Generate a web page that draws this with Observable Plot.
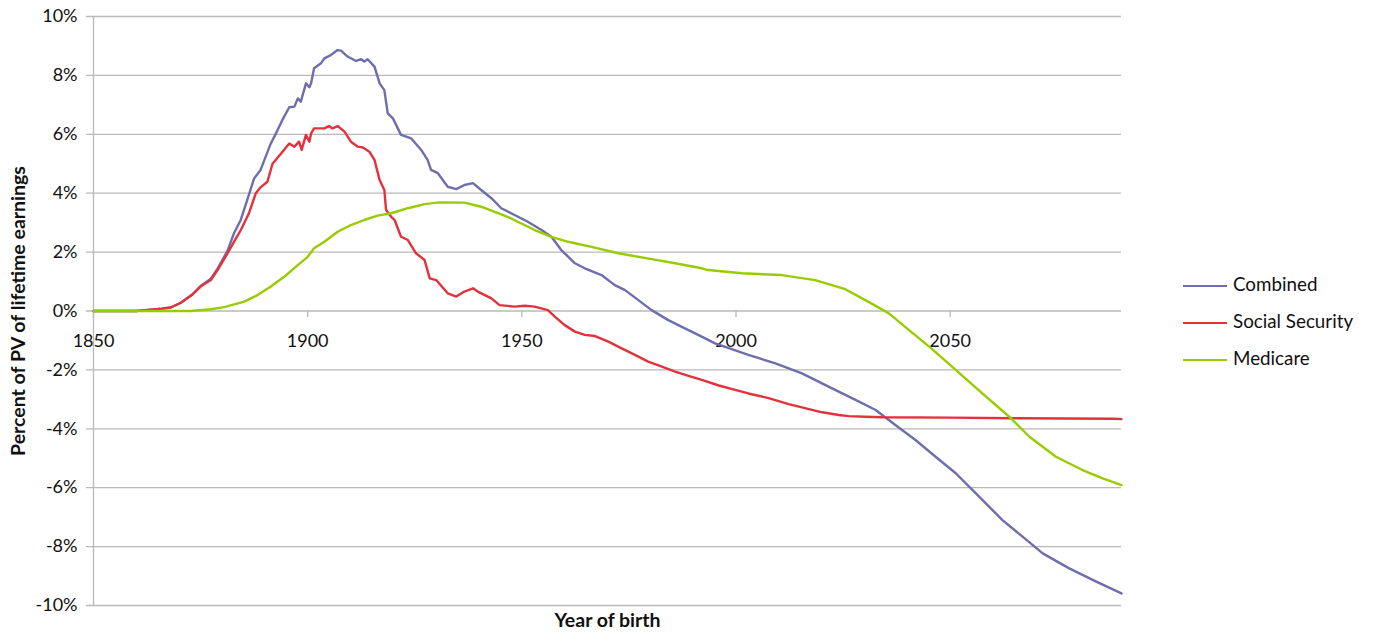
<!DOCTYPE html>
<html>
<head>
<meta charset="utf-8">
<script src="https://cdn.jsdelivr.net/npm/d3@7"></script>
<script src="https://cdn.jsdelivr.net/npm/@observablehq/plot@0.6"></script>
<style>
  body { margin: 0; background: #fff; }
  #wrap { position: relative; width: 1373px; height: 641px; font-family: Lato, "Open Sans", sans-serif; }
  #legend { position: absolute; left: 1183px; top: 265px; font-size: 18.8px; color: #111; }
  #legend .row { height: 37px; line-height: 37px; white-space: nowrap; }
  #legend .sw { display: inline-block; width: 44px; height: 2.5px; vertical-align: middle; margin-right: 6px; }
</style>
</head>
<body>
<div id="wrap"></div>
<script>
// ---- data ----
const seriesNames = ["Combined", "Social Security", "Medicare"];
const seriesColors = ["#6e6eae", "#e3323b", "#99cc00"];
const xTicks = [1850, 1900, 1950, 2000, 2050];
const yTicks = [-10, -8, -6, -4, -2, 0, 2, 4, 6, 8, 10];
const xTitle = "Year of birth";
const yTitle = "Percent of PV of lifetime earnings";

const combinedYears = [1850,1860,1862,1866,1868,1870.4,1873,1875,1877.4,1879,1881.3,1882.8,1884.4,1885.9,1887.5,1889,1891.4,1892.6,1894.1,1895.7,1896.9,1897.7,1898.4,1899.6,1900.4,1900.8,1901.5,1903.1,1903.9,1905.4,1907,1907.8,1909.3,1911.3,1912.5,1913.2,1914,1915.6,1916.8,1917.9,1918.7,1919.9,1921.8,1924.2,1926.5,1928,1928.8,1930.4,1932.7,1934.7,1936.6,1938.6,1940.5,1942.9,1945.2,1948.3,1951.4,1954.6,1956.9,1959.2,1962.4,1964.7,1968.6,1971.7,1974.1,1977.2,1980.3,1984.2,1988.9,1992,1995.1,2002.9,2009.2,2015.4,2021.6,2027.9,2032.6,2037.2,2041.9,2046.6,2051.3,2056,2062.2,2066.9,2071.6,2077.8,2084.1,2090];
const combinedValues = [0,0,0.03,0.08,0.12,0.28,0.55,0.85,1.1,1.45,2.05,2.64,3.1,3.77,4.5,4.79,5.69,6.03,6.49,6.92,6.94,7.22,7.11,7.73,7.6,7.73,8.24,8.41,8.58,8.69,8.86,8.84,8.64,8.49,8.55,8.47,8.55,8.3,7.73,7.5,6.71,6.54,5.98,5.86,5.47,5.13,4.79,4.68,4.22,4.14,4.28,4.34,4.11,3.83,3.49,3.26,3.03,2.75,2.52,2.07,1.62,1.45,1.22,0.88,0.71,0.37,0.03,-0.31,-0.65,-0.87,-1.1,-1.49,-1.78,-2.12,-2.57,-3.02,-3.36,-3.87,-4.38,-4.95,-5.51,-6.19,-7.1,-7.66,-8.23,-8.74,-9.19,-9.59];

const ssYears = [1850,1860,1862,1866,1868,1870.4,1873,1875,1877.4,1879,1881.3,1883,1884.4,1886.3,1887.9,1889,1890.6,1891.8,1893.8,1895.7,1896.9,1898,1898.6,1899.6,1900.4,1900.8,1901.5,1903.9,1905,1905.8,1907,1908.6,1910.1,1911.7,1912.9,1914.4,1915.6,1916.8,1917.9,1918.3,1919.5,1920.3,1921.8,1923.4,1925.3,1927.3,1928.5,1930,1932.7,1934.7,1936.6,1938.6,1939.7,1942.9,1944.8,1948.3,1950.7,1953,1956.1,1957.7,1960,1962.4,1964.7,1967.1,1970.2,1973.3,1976.4,1979.5,1982.7,1985.8,1988.9,1992,1996,1999.8,2002.9,2007.6,2012.3,2015.4,2020.1,2024,2026.3,2030,2034.1,2049.7,2065.3,2088,2090];
const ssValues = [0,0,0.03,0.08,0.12,0.28,0.55,0.83,1.05,1.4,1.96,2.4,2.75,3.32,4.0,4.2,4.39,5.0,5.35,5.69,5.58,5.75,5.47,5.98,5.75,6.03,6.2,6.2,6.28,6.2,6.28,6.09,5.75,5.58,5.55,5.41,5.13,4.45,4.11,3.43,3.2,3.09,2.52,2.41,1.96,1.73,1.11,1.05,0.6,0.49,0.66,0.77,0.66,0.43,0.2,0.15,0.18,0.15,0.03,-0.19,-0.48,-0.7,-0.81,-0.85,-1.04,-1.27,-1.49,-1.72,-1.89,-2.06,-2.2,-2.34,-2.53,-2.68,-2.8,-2.96,-3.16,-3.27,-3.44,-3.53,-3.57,-3.59,-3.61,-3.62,-3.64,-3.66,-3.67];

const medicareYears = [1850,1872.7,1877.4,1880.5,1885.2,1888.3,1891.4,1894.5,1897.7,1900,1901.5,1903.9,1907,1910.1,1913.2,1916.3,1919.5,1923.4,1927.3,1930.8,1936.6,1940.5,1946.7,1953,1956.9,1960.8,1966.3,1972.5,1980.3,1985.8,1992,1993.5,2001.4,2010.7,2018.5,2025.5,2030.2,2035.7,2040.4,2045.1,2051.3,2057.5,2063.8,2068.5,2074.7,2080.9,2085.6,2090];
const medicareValues = [0,0,0.06,0.13,0.32,0.54,0.83,1.16,1.56,1.84,2.13,2.35,2.69,2.92,3.09,3.24,3.32,3.49,3.63,3.69,3.68,3.54,3.2,2.75,2.52,2.35,2.18,1.96,1.76,1.62,1.45,1.39,1.28,1.22,1.05,0.74,0.37,-0.08,-0.65,-1.21,-2.0,-2.8,-3.59,-4.27,-4.95,-5.4,-5.68,-5.91];

// ---- build table ----
const table = [];
[[combinedYears, combinedValues], [ssYears, ssValues], [medicareYears, medicareValues]].forEach(([ys, vs], i) => {
  ys.forEach((y, j) => table.push({series: seriesNames[i], year: y, value: vs[j]}));
});

const grid = "#b9b9b9";
const chart = Plot.plot({
  width: 1373,
  height: 641,
  marginLeft: 93,
  marginRight: 252,
  marginTop: 16,
  marginBottom: 36,
  style: {fontFamily: "Lato, 'Open Sans', sans-serif", fontSize: "18px", color: "#111", background: "#fff"},
  x: {domain: [1850, 2090], axis: null},
  y: {domain: [-10, 10], axis: null},
  color: {domain: seriesNames, range: seriesColors},
  marks: [
    Plot.ruleY(yTicks, {stroke: grid, strokeWidth: 1.3, insetLeft: -7}),
    Plot.ruleX([1850], {stroke: grid, strokeWidth: 1.3}),
    Plot.ruleX(xTicks, {y1: 0, y2: -0.22, stroke: grid, strokeWidth: 1.3}),
    Plot.axisY({ticks: yTicks, tickSize: 0, tickPadding: 16, tickFormat: d => d + "%", fontSize: 18, label: null}),
    Plot.text(xTicks, {x: d => d, y: 0, dy: 30, text: d => String(d), fontSize: 18, fill: "#111"}),
    Plot.line(table, {x: "year", y: "value", z: "series", stroke: "series", strokeWidth: 2.4, curve: "linear"}),
    Plot.text([xTitle], {frameAnchor: "bottom", dy: 21, fontWeight: "bold", fontSize: 19.5, fill: "#111"}),
    Plot.text([yTitle], {frameAnchor: "left", dx: -75, rotate: -90, textAnchor: "middle", fontWeight: "bold", fontSize: 19.5, fill: "#111"})
  ]
});

const wrap = document.getElementById("wrap");
wrap.appendChild(chart);
const legend = document.createElement("div");
legend.id = "legend";
seriesNames.forEach((name, i) => {
  const row = document.createElement("div");
  row.className = "row";
  const sw = document.createElement("span");
  sw.className = "sw";
  sw.style.background = seriesColors[i];
  row.appendChild(sw);
  row.appendChild(document.createTextNode(name));
  legend.appendChild(row);
});
wrap.appendChild(legend);
</script>
</body>
</html>
